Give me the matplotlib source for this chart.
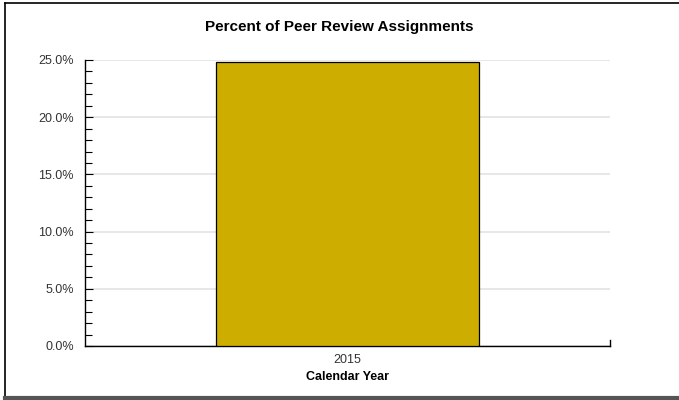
import matplotlib
matplotlib.use("Agg")
import matplotlib.pyplot as plt
from matplotlib.lines import Line2D
from matplotlib.ticker import MultipleLocator, FuncFormatter

plt.rcParams["font.family"] = ["Liberation Sans", "DejaVu Sans"]

years = ["2015"]
percent = [24.8]

fig = plt.figure(figsize=(6.79, 4.0), dpi=100)
ax = fig.add_axes([85 / 679, 1 - 346 / 400, 525 / 679, 286 / 400])

x = list(range(len(years)))
ax.bar(x, percent, width=0.5, color="#CCAD00", edgecolor="black", linewidth=0.9, zorder=3)

ax.set_xlim(-0.5, 0.5)
ax.set_ylim(0, 25)
ax.set_xticks(x)
ax.set_xticklabels(years)
ax.yaxis.set_major_locator(MultipleLocator(5))
ax.yaxis.set_minor_locator(MultipleLocator(1))
ax.yaxis.set_major_formatter(FuncFormatter(lambda v, p: f"{v:.1f}%"))

ax.grid(axis="y", which="major", color="#e3e3e3", linewidth=1.2, zorder=0)
ax.tick_params(axis="y", which="major", direction="in", length=6, width=0.8,
               labelsize=9, labelcolor="#333333", pad=8)
ax.tick_params(axis="y", which="minor", direction="in", length=5, width=0.8)
ax.tick_params(axis="x", which="major", length=0, labelsize=9,
               labelcolor="#333333", pad=6)

ax.spines["top"].set_visible(False)
ax.spines["right"].set_bounds(0, 0.5)
ax.spines["left"].set_linewidth(1.0)
ax.spines["bottom"].set_linewidth(1.0)
ax.spines["right"].set_linewidth(1.0)

ax.set_xlabel("Calendar Year", fontsize=9, fontweight="bold", labelpad=3)
fig.text(0.5, 1 - 27 / 400, "Percent of Peer Review Assignments",
         ha="center", va="center", fontsize=11, fontweight="bold")

# outer frame
fig.add_artist(Line2D([5 / 679, 5 / 679], [3 / 400, 1 - 3 / 400],
                      transform=fig.transFigure, color="black", linewidth=1.2))
fig.add_artist(Line2D([5 / 679, 1], [1 - 3 / 400, 1 - 3 / 400],
                      transform=fig.transFigure, color="black", linewidth=1.2))
fig.add_artist(Line2D([5 / 679, 1], [2 / 400, 2 / 400],
                      transform=fig.transFigure, color="#555555", linewidth=3))

fig.savefig("out.png", dpi=100)
